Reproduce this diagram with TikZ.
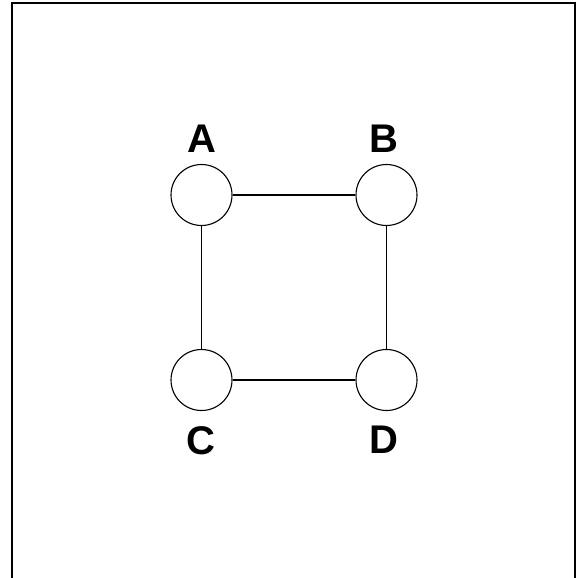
\documentclass[tikz,border=0pt]{standalone}
\usepackage{fontspec}
\setmainfont{Liberation Sans}
\usetikzlibrary{positioning}

\begin{document}
\begin{tikzpicture}[%
		x=1pt, y=-1pt,
		vertex/.style={
			circle,
			minimum size=61pt,
			inner sep=0pt,
			line width=1.1pt,
			black,
			draw
		},
		vlabel/.style={
			font=\fontsize{40}{40}\selectfont\bfseries,
			inner sep=0pt
		},
		edge/.style={
			line width=1.1pt
		},
		frame/.style={
			line width=2.2pt
		}]

		\useasboundingbox (0,0) rectangle (584,578);

		% OUTER FRAME

		\draw[frame] (12,600) -- (12,3) -- (575,3) -- (575,600);

		% VERTICES

		\node (A) [vertex] at (201.5,195) {};
		\node (B) [vertex] at (386.5,195) {};
		\node (C) [vertex] at (201.5,380) {};
		\node (D) [vertex] at (386.5,380) {};

		\node (labelA) [vlabel, above=11pt of A] {A};
		\node (labelB) [vlabel, above=11pt of B, xshift=-3pt] {B};
		\node (labelC) [vlabel, below=15pt of C, xshift=-1pt] {C};
		\node (labelD) [vlabel, below=15pt of D, xshift=-3pt] {D};

		% EDGES

		\draw[edge] (A) -- (B);
		\draw[edge] (B) -- (D);
		\draw[edge] (D) -- (C);
		\draw[edge] (C) -- (A);
\end{tikzpicture}
\end{document}
